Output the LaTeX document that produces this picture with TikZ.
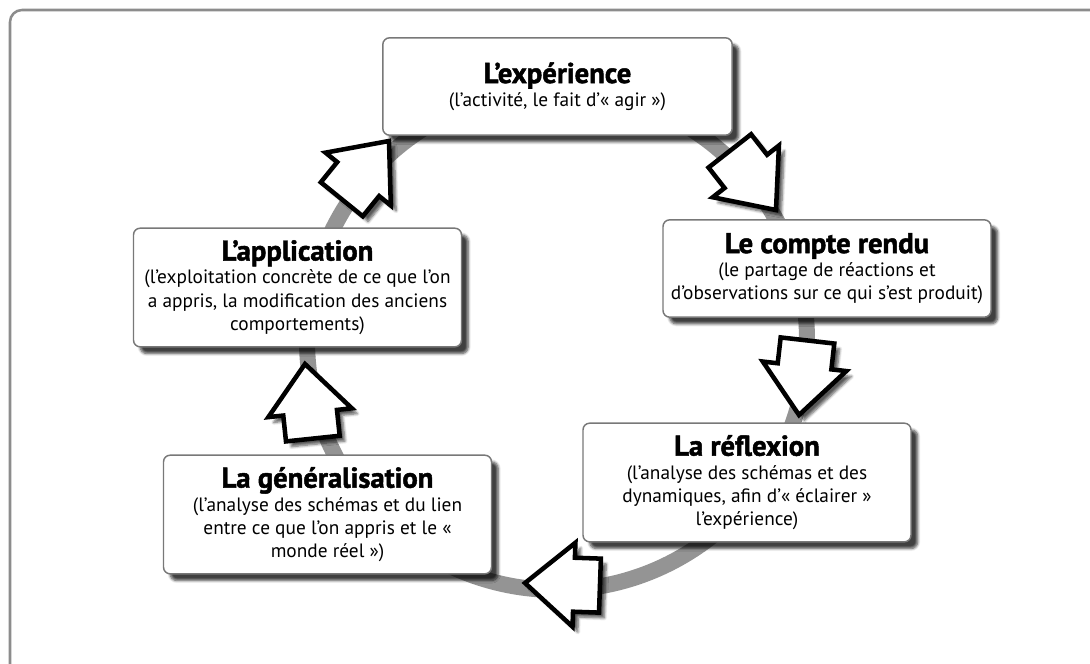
\documentclass[tikz,border=0pt]{standalone}
\usepackage{fontspec}
\setmainfont{PT Sans}
\newfontfamily\heavyfont{PT Sans}[BoldFeatures={FakeBold=1.6}]
\usetikzlibrary{shadows.blur}

\definecolor{framegray}{RGB}{140,140,140}
\definecolor{boxgray}{RGB}{120,120,120}
\definecolor{ringgray}{RGB}{148,148,148}
\newcommand{\steptitle}[1]{{\heavyfont\bfseries\fontsize{21.5}{23}\selectfont #1}}

\tikzset{every picture/.style={line width=0.75pt}}
\tikzset{
  stepbox/.style={draw=boxgray, line width=1.1pt, fill=white, rounded corners=5pt,
    align=center, inner sep=0pt, minimum width=246pt, minimum height=89pt,
    font=\fontsize{14.5}{17.5}\selectfont,
    blur shadow={shadow xshift=5pt, shadow yshift=-5pt, shadow blur steps=6, shadow opacity=75}},
  ringline/.style={draw=ringgray, line width=12pt},
  blockarrow/.pic={
    \draw[draw=black, fill=white, line width=3.4pt, line join=miter,
      blur shadow={shadow xshift=4pt, shadow yshift=-4pt, shadow blur steps=6, shadow opacity=65}]
      (0,0) -- (-49,42) -- (-49,27) -- (-75,27) -- (-75,-27) -- (-49,-27) -- (-49,-42) -- cycle ;
  }
}

\begin{document}
\begin{tikzpicture}[x=0.75pt,y=0.75pt,yscale=-1,xscale=1]
\useasboundingbox (0,0) rectangle (1090,664);

%Outer frame
\begin{scope}
\clip (0,0) rectangle (1090,664);
\draw[framegray, line width=1.9pt, rounded corners=9pt] (10,10) rectangle (1120,690);
\end{scope}

%Ring behind the steps
\draw[ringline] (557,340) circle (250);

% Step boxes
\node[stepbox, minimum width=262pt, minimum height=73pt] (experience) at (557.5,86.5)
  {\steptitle{L’expérience}\\(l’activité, le fait d’«~agir~»)};
\node[stepbox, minimum height=73pt] (compterendu) at (827,268.5)
  {\steptitle{Le compte rendu}\\(le partage de réactions et\\d’observations sur ce qui s’est produit)};
\node[stepbox] (reflexion) at (747,482.5)
  {\steptitle{La réflexion}\\(l’analyse des schémas et des\\dynamiques, afin d’«~éclairer~»\\l’expérience)};
\node[stepbox] (generalisation) at (327.5,514.5)
  {\steptitle{La généralisation}\\(l’analyse des schémas et du lien\\entre ce que l’on appris et le «\\monde réel »)};
\node[stepbox] (application) at (297.5,287.5)
  {\steptitle{L’application}\\(l’exploitation concrète de ce que l’on\\a appris, la modification des anciens\\comportements)};

% Block arrows on the ring
\pic[rotate=51] at (389,141) {blockarrow};
\pic[rotate=-52] at (776,210) {blockarrow};
\pic[rotate=-96.5] at (799,415) {blockarrow};
\pic[rotate=-182] at (525,583) {blockarrow};
\pic[rotate=96] at (305,364) {blockarrow};

\end{tikzpicture}
\end{document}
